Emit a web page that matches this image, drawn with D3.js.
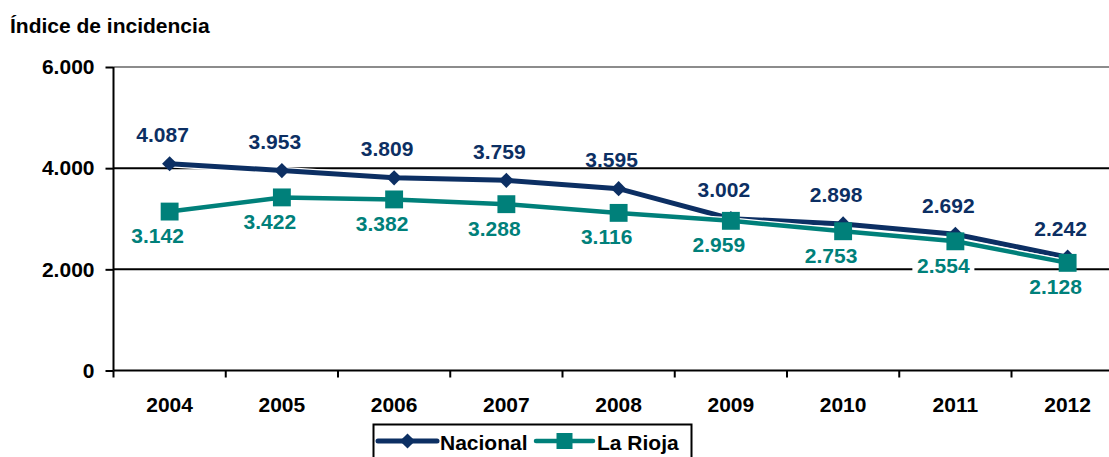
<!DOCTYPE html>
<html>
<head>
<meta charset="utf-8">
<script src="https://cdn.jsdelivr.net/npm/d3@7"></script>
<style>
  body { margin: 0; background: #fff; }
  text { font-family: "Liberation Sans", Arial, sans-serif; font-weight: bold; }
</style>
</head>
<body>
<div id="chart"></div>
<script>
// Data
const years = ["2004", "2005", "2006", "2007", "2008", "2009", "2010", "2011", "2012"];
const nacional = [4087, 3953, 3809, 3759, 3595, 3002, 2898, 2692, 2242];
const laRioja = [3142, 3422, 3382, 3288, 3116, 2959, 2753, 2554, 2128];
const yTicks = [0, 2000, 4000, 6000];

const width = 1109, height = 457;
const navy = "#0c2f63", teal = "#00807a";

// Spanish number format: 6.000
const es = d3.formatLocale({ decimal: ",", thousands: ".", grouping: [3], currency: ["", " €"] });
const fmt = es.format(",d");

const svg = d3.select("#chart")
  .append("svg")
    .attr("width", width)
    .attr("height", height);

const left = 113.5, band = 112.25;
const x = d3.scaleBand()
  .domain(years)
  .range([left, left + band * years.length]);
const cx = d => x(d) + x.bandwidth() / 2;

const y = d3.scaleLinear()
  .domain([0, 6000])
  .range([370.5, 67]);

// title
svg.append("text")
  .attr("x", 10).attr("y", 33)
  .style("font-size", "21px")
  .text("Índice de incidencia");

// gridlines
svg.selectAll(".grid")
  .data(yTicks.filter(d => d > 0))
  .join("line")
    .attr("x1", left).attr("x2", x.range()[1])
    .attr("y1", d => y(d)).attr("y2", d => y(d))
    .attr("stroke", d => d === 6000 ? "#8c8c8c" : "#000")
    .attr("stroke-width", 2);

// y axis
const yAxis = svg.append("g")
  .attr("transform", `translate(${left},0)`)
  .call(d3.axisLeft(y).tickValues(yTicks).tickSize(8).tickFormat(fmt));
yAxis.select(".domain").attr("stroke-width", 2).attr("d", `M0,${y(6000)}V${y(0)}`);
yAxis.selectAll(".tick line").attr("stroke-width", 2);
yAxis.selectAll(".tick text")
  .attr("x", -19)
  .style("font-size", "21px")
  .style("font-family", "Liberation Sans, Arial, sans-serif")
  .attr("fill", "#000");

// x axis
svg.append("line")
  .attr("x1", left).attr("x2", x.range()[1])
  .attr("y1", y(0)).attr("y2", y(0))
  .attr("stroke", "#000").attr("stroke-width", 2);
svg.selectAll(".xtick")
  .data(d3.range(years.length + 1))
  .join("line")
    .attr("x1", i => left + i * x.bandwidth())
    .attr("x2", i => left + i * x.bandwidth())
    .attr("y1", y(0)).attr("y2", y(0) + 7)
    .attr("stroke", "#000").attr("stroke-width", 2);
svg.selectAll(".xlabel")
  .data(years)
  .join("text")
    .attr("x", d => cx(d))
    .attr("y", 412)
    .attr("text-anchor", "middle")
    .style("font-size", "21px")
    .text(d => d);

// series (diamond = square turned 45 degrees)
const series = [
  { name: "Nacional", values: nacional, color: navy, width: 5, rotate: 45, size: 115, legendSize: 115, dx: -7, dy: -29, bg: false },
  { name: "La Rioja", values: laRioja, color: teal, width: 4.5, rotate: 0, size: 320, legendSize: 256, dx: -12, dy: 24, bg: true }
];

const line = d3.line()
  .x((d, i) => cx(years[i]))
  .y(d => y(d));

series.forEach(s => {
  svg.append("path")
    .attr("d", line(s.values))
    .attr("fill", "none")
    .attr("stroke", "#fff")
    .attr("stroke-width", s.width + 2.5);
  svg.append("path")
    .attr("d", line(s.values))
    .attr("fill", "none")
    .attr("stroke", s.color)
    .attr("stroke-width", s.width);
  svg.selectAll(null)
    .data(s.values)
    .join("path")
      .attr("d", d3.symbol().type(d3.symbolSquare).size(s.size))
      .attr("transform", (d, i) => `translate(${cx(years[i])},${y(d)}) rotate(${s.rotate})`)
      .attr("fill", s.color);
});

// data labels
series.forEach(s => {
  const g = svg.selectAll(null)
    .data(s.values)
    .join("g")
      .attr("transform", (d, i) => `translate(${cx(years[i]) + s.dx},${y(d) + s.dy})`);
  if (s.bg) {
    g.append("rect")
      .attr("x", -31).attr("y", -10)
      .attr("width", 62).attr("height", 20)
      .attr("fill", "#fff");
  }
  g.append("text")
    .attr("text-anchor", "middle")
    .attr("y", 7.5)
    .style("font-size", "21px")
    .attr("fill", s.color)
    .text(d => fmt(d));
});

// legend
const lg = svg.append("g");
lg.append("rect")
  .attr("x", 373.5).attr("y", 424.5)
  .attr("width", 318).attr("height", 45)
  .attr("fill", "#fff").attr("stroke", "#000").attr("stroke-width", 2);
const legendItems = [
  { s: series[0], x0: 378, x1: 437, tx: 440 },
  { s: series[1], x0: 536, x1: 593, tx: 597 }
];
legendItems.forEach(it => {
  lg.append("line")
    .attr("x1", it.x0).attr("x2", it.x1)
    .attr("y1", 441).attr("y2", 441)
    .attr("stroke", it.s.color).attr("stroke-width", it.s.width)
    .attr("stroke-linecap", "round");
  lg.append("path")
    .attr("d", d3.symbol().type(d3.symbolSquare).size(it.s.legendSize))
    .attr("transform", `translate(${(it.x0 + it.x1) / 2},441) rotate(${it.s.rotate})`)
    .attr("fill", it.s.color);
  lg.append("text")
    .attr("x", it.tx).attr("y", 449.5)
    .style("font-size", "21px")
    .text(it.s.name);
});
</script>
</body>
</html>
